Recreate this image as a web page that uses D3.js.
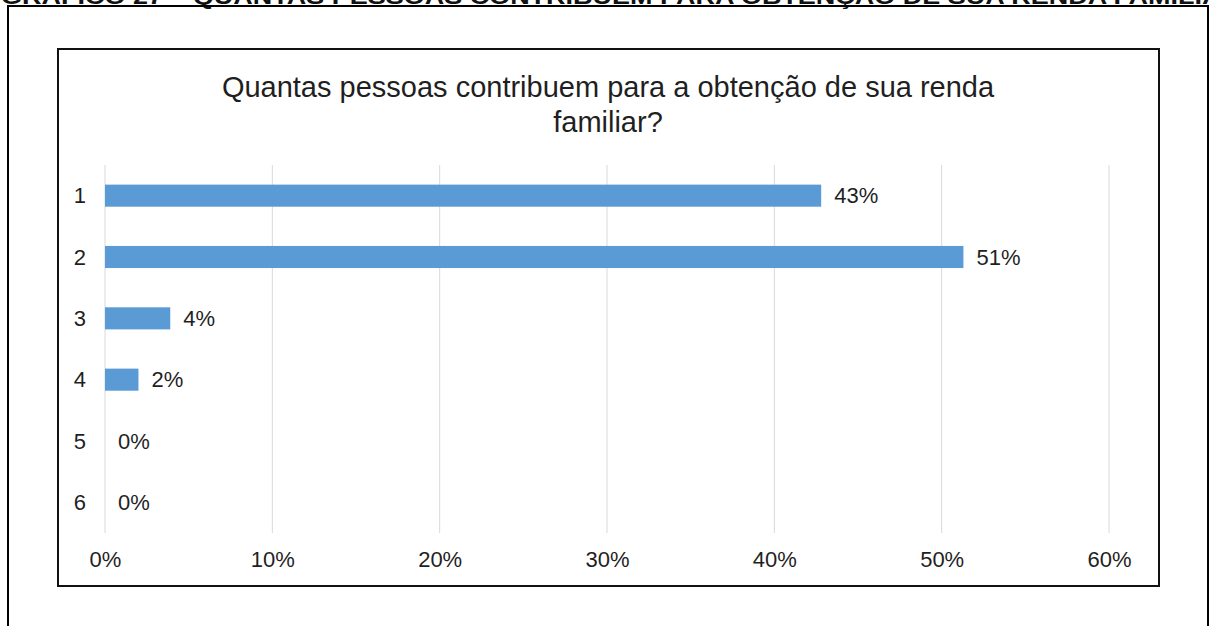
<!DOCTYPE html>
<html>
<head>
<meta charset="utf-8">
<script src="https://cdn.jsdelivr.net/npm/d3@7"></script>
<style>
  html, body { margin: 0; padding: 0; background: #fff; }
  svg { display: block; font-family: "Liberation Sans", Arial, sans-serif; }
</style>
</head>
<body>
<svg id="chart" width="1213" height="626"></svg>
<script>
// Number of people contributing to household income (share of respondents)
const categories = ["1", "2", "3", "4", "5", "6"];
const shares = [0.428, 0.513, 0.039, 0.020, 0, 0];
const ticks = [0, 0.1, 0.2, 0.3, 0.4, 0.5, 0.6];
const captionText = "GRÁFICO 27 – QUANTAS PESSOAS CONTRIBUEM PARA OBTENÇÃO DE SUA RENDA FAMILIAR";
const titleLines = ["Quantas pessoas contribuem para a obtenção de sua renda", "familiar?"];

const svg = d3.select("#chart");
const textColor = "#1f1f1f";
const pct = d3.format(".0%");

// Document caption above the figure (clipped by the page top)
svg.append("text")
  .attr("x", 1)
  .attr("y", 4)
  .attr("font-size", 22)
  .attr("font-weight", "bold")
  .attr("fill", "#111")
  .attr("textLength", 1240)
  .attr("lengthAdjust", "spacingAndGlyphs")
  .text(captionText);

// Outer figure frame
svg.append("rect")
  .attr("x", 8).attr("y", 6)
  .attr("width", 1200).attr("height", 640)
  .attr("fill", "none").attr("stroke", "#000").attr("stroke-width", 2);

// Chart area border
svg.append("rect")
  .attr("x", 58).attr("y", 49)
  .attr("width", 1101).attr("height", 537)
  .attr("fill", "#fff").attr("stroke", "#111").attr("stroke-width", 2);

// Title
const title = svg.append("text")
  .attr("text-anchor", "middle")
  .attr("font-size", 29)
  .attr("fill", textColor);
titleLines.forEach((line, i) => {
  title.append("tspan").attr("x", 608).attr("y", 97 + i * 35).text(line);
});

// Scales
const x = d3.scaleLinear().domain([0, 0.6]).range([105, 1109]);
const y = d3.scaleBand().domain(categories).range([165, 533]).paddingInner(0.64).paddingOuter(0.32);

// Vertical gridlines
svg.append("g")
  .selectAll("line")
  .data(ticks)
  .join("line")
  .attr("x1", d => x(d)).attr("x2", d => x(d))
  .attr("y1", 165).attr("y2", 533)
  .attr("stroke", "#d9d9d9").attr("stroke-width", 1);

// X axis (labels only)
const xAxis = svg.append("g")
  .attr("transform", "translate(0,533)")
  .call(d3.axisBottom(x).tickValues(ticks).tickFormat(pct).tickSize(0).tickPadding(0));
xAxis.select(".domain").remove();
xAxis.selectAll("text")
  .attr("y", 34)
  .attr("dy", 0)
  .attr("font-size", 22)
  .attr("font-family", "Liberation Sans, Arial, sans-serif")
  .attr("fill", textColor);

// Y axis (category labels)
const yAxis = svg.append("g")
  .attr("transform", "translate(86,0)")
  .call(d3.axisLeft(y).tickSize(0).tickPadding(0));
yAxis.select(".domain").remove();
yAxis.selectAll("text")
  .attr("dy", "0.35em")
  .attr("font-size", 22)
  .attr("font-family", "Liberation Sans, Arial, sans-serif")
  .attr("fill", textColor);

// Bars
svg.append("g")
  .selectAll("rect")
  .data(categories)
  .join("rect")
  .attr("x", x(0))
  .attr("y", d => y(d))
  .attr("width", (d, i) => x(shares[i]) - x(0))
  .attr("height", y.bandwidth())
  .attr("fill", "#5b9bd5");

// Value labels
svg.append("g")
  .selectAll("text")
  .data(categories)
  .join("text")
  .attr("x", (d, i) => x(shares[i]) + 13)
  .attr("y", d => y(d) + y.bandwidth() / 2)
  .attr("dy", "0.35em")
  .attr("font-size", 22)
  .attr("fill", textColor)
  .text((d, i) => pct(shares[i]));
</script>
</body>
</html>
